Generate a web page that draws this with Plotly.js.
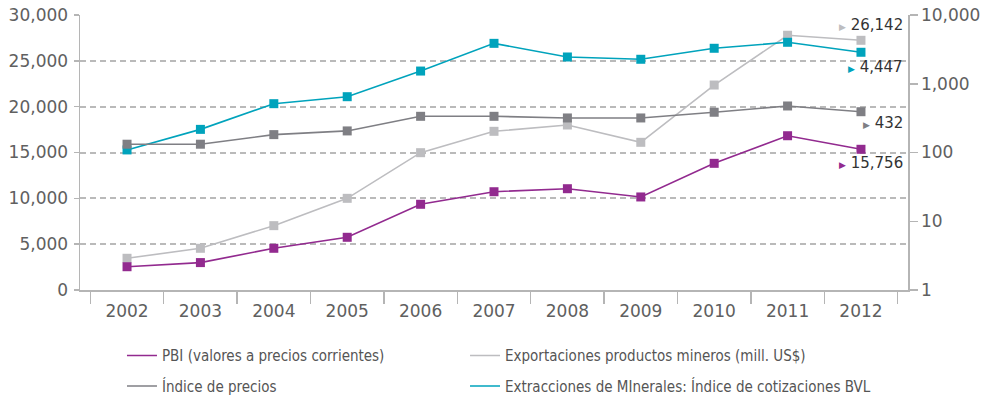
<!DOCTYPE html>
<html>
<head>
<meta charset="utf-8">
<script src="https://cdn.plot.ly/plotly-3.0.1.min.js"></script>
<style>
  html, body { margin: 0; padding: 0; background: #fff; }
  #chart { width: 988px; height: 397px; }
</style>
</head>
<body>
<div id="chart"></div>
<script>
// ---- Data ----
const years = ['2002','2003','2004','2005','2006','2007','2008','2009','2010','2011','2012'];

// Left axis (linear)
const pbi = [2540, 2990, 4550, 5750, 9350, 10720, 11050, 10150, 13820, 16830, 15350];
const exportaciones = [3460, 4550, 7020, 10000, 14980, 17310, 18000, 16110, 22360, 27790, 27240];

// Right axis (log)
const indicePrecios = [132, 132, 182, 206, 336, 336, 318, 318, 385, 475, 392];
const indiceBVL = [109, 217, 513, 648, 1530, 3870, 2450, 2270, 3280, 4010, 2870];

// Series names
const namePBI = 'PBI (valores a precios corrientes)';
const nameExp = 'Exportaciones productos mineros (mill. US$)';
const nameIdx = 'Índice de precios';
const nameBVL = 'Extracciones de MInerales: Índice de cotizaciones BVL';

// End labels
const endLabels = ['26,142', '4,447', '432', '15,756'];

const cPurple = '#922a8f';
const cLight = '#bdbdc0';
const cGray = '#7f7f84';
const cCyan = '#00a3bc';

function tr(name, y, color, axis) {
  return {
    type: 'scatter', mode: 'lines+markers', name: name,
    x: years, y: y, yaxis: axis, showlegend: false,
    line: { color: color, width: 1.6 },
    marker: { symbol: 'square', size: 9, color: color },
    hoverinfo: 'skip'
  };
}
// legend-only entries (line symbol without marker)
function leg(name, color, legend, group, rank) {
  return {
    type: 'scatter', mode: 'lines', name: name, x: [years[0]], y: [null],
    line: { color: color, width: 1.6 }, legend: legend, legendgroup: group,
    legendrank: rank, showlegend: true, hoverinfo: 'skip'
  };
}

const data = [
  tr(nameExp, exportaciones, cLight, 'y'),
  tr(namePBI, pbi, cPurple, 'y'),
  tr(nameBVL, indiceBVL, cCyan, 'y2'),
  tr(nameIdx, indicePrecios, cGray, 'y2'),
  leg(namePBI, cPurple, 'legend', 'g1', 1),
  leg(nameIdx, cGray, 'legend', 'g2', 2),
  leg(nameExp, cLight, 'legend2', 'g3', 1),
  leg(nameBVL, cCyan, 'legend2', 'g4', 2)
];

const tickFont = { family: 'DejaVu Sans, sans-serif', size: 17, color: '#606060' };
const legFont = { family: 'DejaVu Sans Condensed, Liberation Sans Narrow, Roboto, sans-serif', size: 15, color: '#555' };
const axisColor = '#b5b5b5';

function lab(text, color, yPaper) {
  return {
    xref: 'paper', yref: 'paper', x: 0.996, y: yPaper,
    xanchor: 'right', yanchor: 'middle', showarrow: false,
    text: '<span style="color:' + color + ';font-size:9px">▶</span> ' + text,
    font: { family: 'DejaVu Sans, sans-serif', size: 15, color: '#333' }
  };
}

const legCommon = {
  orientation: 'v', xanchor: 'left', yanchor: 'top', y: -0.179,
  font: legFont, itemwidth: 30, bgcolor: 'rgba(0,0,0,0)',
  traceorder: 'grouped', tracegroupgap: 8
};

const layout = {
  width: 988, height: 397,
  margin: { l: 80, r: 80, t: 15, b: 107, autoexpand: false },
  paper_bgcolor: '#fff', plot_bgcolor: '#fff',
  showlegend: true,
  xaxis: {
    type: 'category', tickson: 'boundaries', ticks: 'outside', ticklen: 12,
    tickcolor: axisColor, tickwidth: 1.5, showline: true, linecolor: axisColor, linewidth: 1.5,
    showgrid: false, tickfont: tickFont, ticklabelstandoff: 5, fixedrange: true
  },
  yaxis: {
    range: [0, 30000], dtick: 5000, tickformat: ',d', ticks: 'outside', ticklen: 5,
    tickcolor: axisColor, tickwidth: 1.5, showline: true, linecolor: axisColor, linewidth: 1.5,
    showgrid: true, gridcolor: '#bababa', gridwidth: 2, griddash: '6px,4px',
    zeroline: false, tickfont: tickFont, ticklabelstandoff: 2, fixedrange: true
  },
  yaxis2: {
    type: 'log', range: [0, 4], dtick: 1, tickformat: ',d', overlaying: 'y', side: 'right',
    ticks: 'outside', ticklen: 8, tickcolor: axisColor, tickwidth: 1.5,
    showline: true, linecolor: axisColor, linewidth: 1.5, showgrid: false, zeroline: false,
    tickfont: tickFont, ticklabelstandoff: 0, fixedrange: true
  },
  legend: Object.assign({}, legCommon, { x: 0.0507 }),
  legend2: Object.assign({}, legCommon, { x: 0.465 }),
  annotations: [
    lab(endLabels[0], cLight, 0.9636),
    lab(endLabels[1], cCyan, 0.812),
    lab(endLabels[2], cGray, 0.606),
    lab(endLabels[3], cPurple, 0.4607)
  ]
};

Plotly.newPlot('chart', data, layout, { displayModeBar: false, staticPlot: true });
</script>
</body>
</html>
